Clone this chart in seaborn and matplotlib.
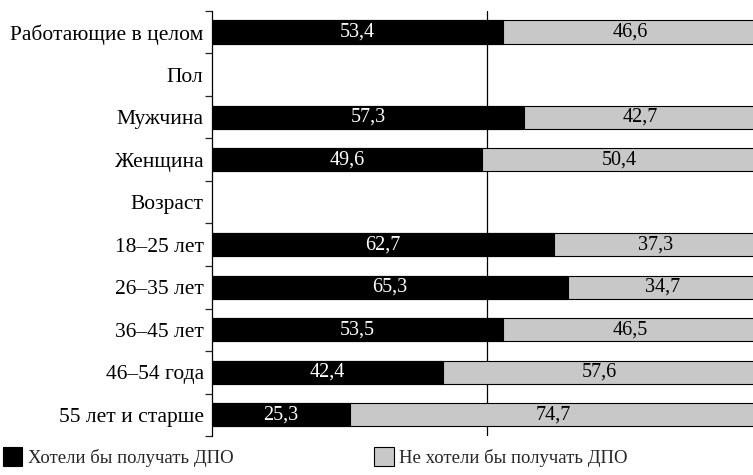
import matplotlib
matplotlib.use("Agg")
import matplotlib.pyplot as plt
import seaborn as sns
import numpy as np
import pandas as pd
from matplotlib.patches import Patch

# категории и значения
categories = ["Работающие в целом", "Пол", "Мужчина", "Женщина", "Возраст",
              "18–25 лет", "26–35 лет", "36–45 лет", "46–54 года", "55 лет и старше"]
want = [53.4, np.nan, 57.3, 49.6, np.nan, 62.7, 65.3, 53.5, 42.4, 25.3]
not_want = [46.6, np.nan, 42.7, 50.4, np.nan, 37.3, 34.7, 46.5, 57.6, 74.7]
legend_labels = ["Хотели бы получать ДПО", "Не хотели бы получать ДПО"]

df = pd.DataFrame({"cat": categories, "want": want, "not_want": not_want})
df["total"] = df["want"] + df["not_want"]

sns.set_style("white")
plt.rcParams["font.family"] = ["Liberation Serif", "DejaVu Serif"]
plt.rcParams["font.size"] = 13

fig = plt.figure(figsize=(7.53, 4.75), dpi=100)
ax = fig.add_axes([0.2815, 0.082, 0.7235, 0.895])

gray = "#c8c8c8"
sns.barplot(data=df.dropna(), y="cat", x="total", order=categories, orient="h",
            color=gray, edgecolor="black", linewidth=0.8, width=0.55,
            saturation=1, errorbar=None, ax=ax)
sns.barplot(data=df.dropna(), y="cat", x="want", order=categories, orient="h",
            color="black", edgecolor="black", linewidth=0.8, width=0.55,
            saturation=1, errorbar=None, ax=ax)

# подписи значений
for i, (w, n) in enumerate(zip(want, not_want)):
    if np.isnan(w):
        continue
    ax.text(w / 2, i, f"{w:.1f}".replace(".", ","), color="white",
            ha="center", va="center", fontsize=14.5)
    ax.text(w + n / 2, i, f"{n:.1f}".replace(".", ","), color="black",
            ha="center", va="center", fontsize=14.5)

ax.axvline(50.4, color="black", lw=0.9, zorder=0)
ax.set_xlim(0, 100)
ax.set_ylim(len(categories) - 0.5, -0.5)
ax.set_xlabel("")
ax.set_ylabel("")
ax.set_xticks([])
for s in ["top", "right", "bottom"]:
    ax.spines[s].set_visible(False)
ax.spines["left"].set_color("black")
ax.spines["left"].set_linewidth(0.9)
ax.tick_params(axis="y", which="major", length=0, pad=6, labelsize=15.5, colors="black")
ax.set_yticks(np.arange(-0.5, len(categories), 1), minor=True)
ax.tick_params(axis="y", which="minor", length=5, width=0.9, direction="out", left=True)

handles = [Patch(facecolor="black", edgecolor="black", lw=0.8),
           Patch(facecolor=gray, edgecolor="black", lw=0.8)]
fig.legend(handles, legend_labels, loc="lower left", bbox_to_anchor=(-0.019, -0.018),
           ncol=2, frameon=False, handlelength=1.05, handleheight=1.15,
           handletextpad=0.3, columnspacing=7.5, fontsize=13.5)

fig.savefig("out.png", dpi=100)
